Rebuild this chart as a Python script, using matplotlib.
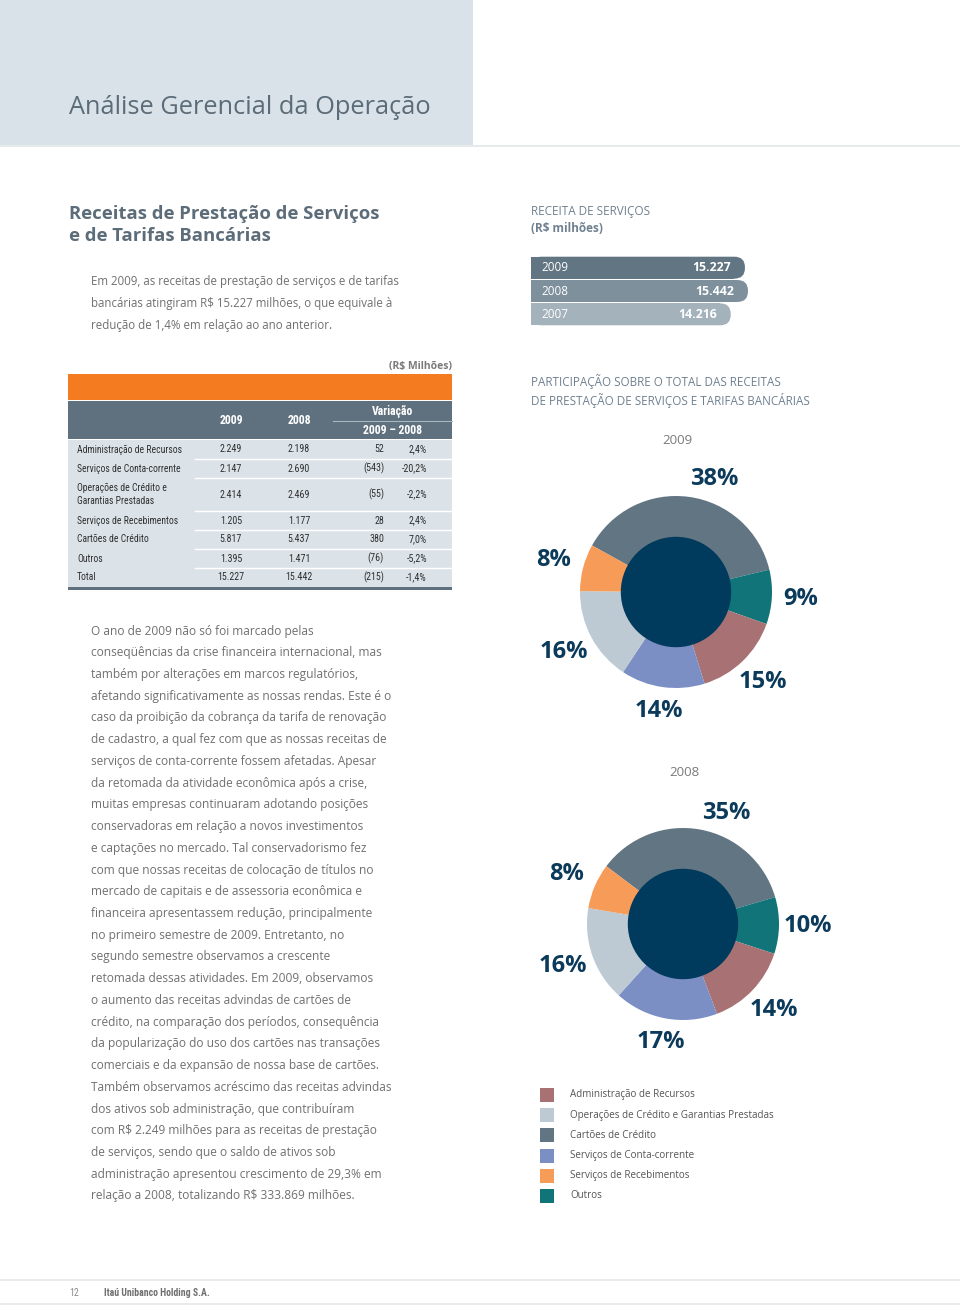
import matplotlib
matplotlib.use("Agg")
import matplotlib.pyplot as plt  # noqa: E402
import numpy as np  # noqa: E402
from matplotlib import font_manager  # noqa: E402
from matplotlib.patches import Rectangle, FancyBboxPatch, Circle  # noqa: E402
from matplotlib.transforms import Affine2D  # noqa: E402

W, H = 960, 1307

# --- data -----------------------------------------------------------------
bar_years = ["2009", "2008", "2007"]
bar_values = [15227, 15442, 14216]

categories = [
    "Administração de Recursos",
    "Serviços de Conta-corrente",
    "Operações de Crédito e\nGarantias Prestadas",
    "Serviços de Recebimentos",
    "Cartões de Crédito",
    "Outros",
]
values_2009 = [2249, 2147, 2414, 1205, 5817, 1395]
values_2008 = [2198, 2690, 2469, 1177, 5437, 1471]
var_abs = [52, -543, -55, 28, 380, -76]
var_pct = [2.4, -20.2, -2.2, 2.4, 7.0, -5.2]
total_2009, total_2008 = 15227, 15442
total_var_abs, total_var_pct = -215, -1.4

cat_colors = ["#a87173", "#7b8fc5", "#bdcad3", "#f69b58", "#627582", "#107479"]
pie_order = [4, 5, 0, 1, 2, 3]          # clockwise from the top-left
legend_order = [0, 2, 4, 1, 3, 5]
legend_names = [
    "Administração de Recursos",
    "Operações de Crédito e Garantias Prestadas",
    "Cartões de Crédito",
    "Serviços de Conta-corrente",
    "Serviços de Recebimentos",
    "Outros",
]

body_lines = [
    "O ano de 2009 não só foi marcado pelas",
    "conseqüências da crise financeira internacional, mas",
    "também por alterações em marcos regulatórios,",
    "afetando significativamente as nossas rendas. Este é o",
    "caso da proibição da cobrança da tarifa de renovação",
    "de cadastro, a qual fez com que as nossas receitas de",
    "serviços de conta-corrente fossem afetadas. Apesar",
    "da retomada da atividade econômica após a crise,",
    "muitas empresas continuaram adotando posições",
    "conservadoras em relação a novos investimentos",
    "e captações no mercado. Tal conservadorismo fez",
    "com que nossas receitas de colocação de títulos no",
    "mercado de capitais e de assessoria econômica e",
    "financeira apresentassem redução, principalmente",
    "no primeiro semestre de 2009. Entretanto, no",
    "segundo semestre observamos a crescente",
    "retomada dessas atividades. Em 2009, observamos",
    "o aumento das receitas advindas de cartões de",
    "crédito, na comparação dos períodos, consequência",
    "da popularização do uso dos cartões nas transações",
    "comerciais e da expansão de nossa base de cartões.",
    "Também observamos acréscimo das receitas advindas",
    "dos ativos sob administração, que contribuíram",
    "com R$ 2.249 milhões para as receitas de prestação",
    "de serviços, sendo que o saldo de ativos sob",
    "administração apresentou crescimento de 29,3% em",
    "relação a 2008, totalizando R$ 333.869 milhões.",
]
intro_lines = [
    "Em 2009, as receitas de prestação de serviços e de tarifas",
    "bancárias atingiram R$ 15.227 milhões, o que equivale à",
    "redução de 1,4% em relação ao ano anterior.",
]

# --- fonts / colours --------------------------------------------------------
installed = {f.name for f in font_manager.fontManager.ttflist}
BODY = "Open Sans" if "Open Sans" in installed else "DejaVu Sans"
NARROW = next((n for n in ["Liberation Sans Narrow", "Roboto Condensed",
                           "Open Sans Condensed"] if n in installed), BODY)

GRAY_TXT = "#707070"
SLATE_TXT = "#5b6b77"
HEAD_TXT = "#6f8090"
NAVY = "#0b3a5b"
TBL_TXT = "#2f2f2f"


def fmt(n):
    return f"{n:,}".replace(",", ".")


def fmt_var(n):
    return f"({fmt(-n)})" if n < 0 else fmt(n)


def fmt_pct(p):
    return f"{p:.1f}%".replace(".", ",")


fig = plt.figure(figsize=(W / 100, H / 100), dpi=100)
fig.patch.set_facecolor("white")
# pixel coordinates, origin at the top-left corner
PX = Affine2D().scale(1 / W, -1 / H).translate(0, 1) + fig.transFigure


def frac(x, y, w, h):
    return [x / W, 1 - (y + h) / H, w / W, h / H]


def put(x, y, s, size, color, weight="normal", ha="left", va="center",
        family=None, **kw):
    fig.text(x, y, s, transform=PX, fontsize=size, color=color,
             fontweight=weight, ha=ha, va=va, family=family or BODY,
             parse_math=False, **kw)


def box(x, y, w, h, color):
    fig.add_artist(Rectangle((x, y), w, h, transform=PX, facecolor=color,
                             edgecolor="none"))


def hline(x0, x1, y, color, lw=1.0):
    fig.add_artist(plt.Line2D([x0, x1], [y, y], transform=PX, color=color,
                              linewidth=lw))


# --- header ---------------------------------------------------------------
box(0, 0, 473, 145, "#d9e2e9")
hline(0, W, 145.5, "#e3e6e8", 1.2)
put(69, 107, "Análise Gerencial da Operação", 18.3, SLATE_TXT)

# --- left intro -----------------------------------------------------------
put(69, 214, "Receitas de Prestação de Serviços", 13.3, "#5c6c79", "bold")
put(69, 236, "e de Tarifas Bancárias", 13.3, "#5c6c79", "bold")
for i, line in enumerate(intro_lines):
    put(91, 282 + i * 21.7, line, 8.3, GRAY_TXT)

# --- bar chart: receita de serviços ---------------------------------------
put(531, 211, "RECEITA DE SERVIÇOS", 8.5, HEAD_TXT)
put(531, 228, "(R$ milhões)", 8.5, HEAD_TXT, "bold")

ax_bar = fig.add_axes(frac(531, 256, 240, 70))
x_per_px = 1 / 0.01405
ax_bar.set_xlim(0, 240 * x_per_px)
ax_bar.set_ylim(len(bar_years) - 0.5, -0.5)
ax_bar.axis("off")
bar_h = 0.94
y_per_px = len(bar_years) / 70
aspect = y_per_px / x_per_px
r_x = 10.5 * x_per_px
bar_colors = ["#627582", "#7e909c", "#a4b2bb"]
for i, (yr, v) in enumerate(zip(bar_years, bar_values)):
    ax_bar.barh(i, v - r_x, height=bar_h, color=bar_colors[i], linewidth=0)
    ax_bar.add_patch(FancyBboxPatch(
        (0, i - bar_h / 2), v, bar_h,
        boxstyle=f"round,pad=0,rounding_size={r_x}",
        mutation_aspect=aspect, facecolor=bar_colors[i], edgecolor="none"))
    ax_bar.text(10 * x_per_px, i, yr, color="white", fontsize=8.5,
                va="center", ha="left", family=BODY)
    ax_bar.text(v - 14 * x_per_px, i, fmt(v), color="white", fontsize=8.8,
                va="center", ha="right", fontweight="bold", family=BODY)

# --- table ---------------------------------------------------------------
TX0, TX1 = 68, 452
put(TX1, 366, "(R$ Milhões)", 7.5, "#7a7a7a", "bold", ha="right")
box(TX0, 374, TX1 - TX0, 26, "#f47b20")
box(TX0, 401, TX1 - TX0, 38, "#5f717e")
put(231, 421, "2009", 8.5, "white", "bold", ha="center", family=NARROW)
put(299, 421, "2008", 8.5, "white", "bold", ha="center", family=NARROW)
put(393, 412, "Variação", 8.5, "white", "bold", ha="center", family=NARROW)
hline(333, TX1, 421, "#a9b7c1", 0.8)
put(393, 431, "2009 – 2008", 8.5, "white", "bold", ha="center",
    family=NARROW)

rows = list(zip(categories, values_2009, values_2008, var_abs, var_pct))
rows.append(("Total", total_2009, total_2008, total_var_abs, total_var_pct))
row_heights = [33 if "\n" in r[0] else 19 for r in rows]
body_top = 440
box(TX0, body_top, TX1 - TX0, sum(row_heights), "#dbe3e9")
y = body_top
for k, (name, a, b, d, p) in enumerate(rows):
    yc = y + row_heights[k] / 2
    put(77, yc, name, 6.9, TBL_TXT, family=NARROW, linespacing=1.45)
    put(231, yc, fmt(a), 7.2, TBL_TXT, ha="center", family=NARROW)
    put(299, yc, fmt(b), 7.2, TBL_TXT, ha="center", family=NARROW)
    put(384, yc, fmt_var(d), 7.2, TBL_TXT, ha="right", family=NARROW)
    put(427, yc, fmt_pct(p), 7.2, TBL_TXT, ha="right", family=NARROW)
    y += row_heights[k]
    if k < len(rows) - 1:
        hline(195, TX1, y, "white", 1.0)
box(TX0, y, TX1 - TX0, 3, "#5f717e")

# --- body text ------------------------------------------------------------
for i, line in enumerate(body_lines):
    put(91, 631 + i * 21.73, line, 8.55, GRAY_TXT)

# --- donuts ---------------------------------------------------------------
put(531, 382, "PARTICIPAÇÃO SOBRE O TOTAL DAS RECEITAS", 8.4, HEAD_TXT)
put(531, 400, "DE PRESTAÇÃO DE SERVIÇOS E TARIFAS BANCÁRIAS", 8.4, HEAD_TXT)

# the big wedge's label sits a little right of its middle
label_nudge = [-11, 0, 0, 0, 0, 0]
label_radius = [1.19, 1.25, 1.25, 1.2, 1.27, 1.27]


def donut(cx, cy, year, values, start):
    put(cx + 1, cy - 151, year, 9.5, "#7a7a7a", ha="center")
    ax = fig.add_axes(frac(cx - 150, cy - 150, 300, 300))
    vals = [values[j] for j in pie_order]
    cols = [cat_colors[j] for j in pie_order]
    wedges, _ = ax.pie(vals, colors=cols, startangle=start,
                       counterclock=False, radius=0.96,
                       wedgeprops=dict(width=0.43, edgecolor="none"))
    ax.set_xlim(-1.5, 1.5)
    ax.set_ylim(-1.5, 1.5)
    ax.set_aspect("equal")
    ax.axis("off")
    ax.add_patch(Circle((0, 0), 0.545, color="#003a5d", zorder=3))
    total = sum(vals)
    for k, (w, v) in enumerate(zip(wedges, vals)):
        mid = np.deg2rad((w.theta1 + w.theta2) / 2 + label_nudge[k])
        r = label_radius[k]
        ax.text(r * np.cos(mid), r * np.sin(mid),
                f"{round(v / total * 100)}%", ha="center", va="center",
                fontsize=17, fontweight="bold", color=NAVY, family=BODY)


donut(676, 592, "2009", values_2009, 151)
donut(683, 924, "2008", values_2008, 143)

# legend
for k, j in enumerate(legend_order):
    yc = 1095 + k * 20.2
    box(540, yc - 7, 14, 14, cat_colors[j])
    put(570, yc, legend_names[k], 7.1, "#555555")

# --- footer ---------------------------------------------------------------
hline(0, W, 1280, "#e6e6e6", 1.2)
hline(0, W, 1304, "#e6e6e6", 1.2)
put(69, 1293, "12", 7, "#8a8a8a", family=NARROW)
put(104, 1293, "Itaú Unibanco Holding S.A.", 7, "#6f6f6f", "bold",
    family=NARROW)

fig.savefig("out.png", dpi=100, facecolor="white")
